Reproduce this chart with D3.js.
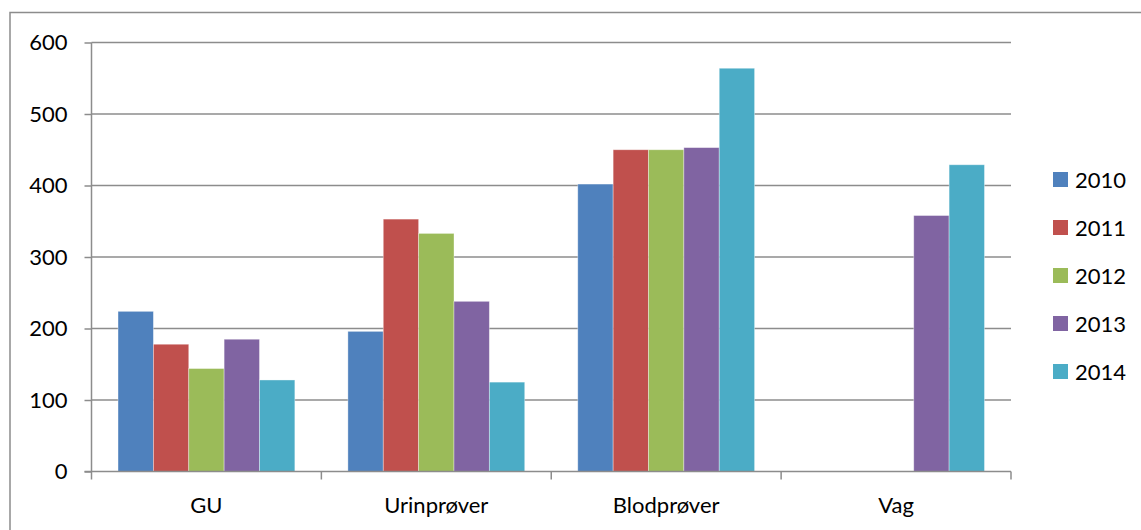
<!DOCTYPE html>
<html>
<head>
<meta charset="utf-8">
<script src="https://cdn.jsdelivr.net/npm/d3@7"></script>
<style>
  html, body { margin: 0; padding: 0; background: #fff; }
  svg { display: block; }
  text { font-family: Lato, "Open Sans", sans-serif; fill: #000; }
</style>
</head>
<body>
<svg id="chart" width="1141" height="530"></svg>
<script>
const categories = ["GU", "Urinprøver", "Blodprøver", "Vag"];
const seriesNames = ["2010", "2011", "2012", "2013", "2014"];
const colors = ["#4F81BD", "#C0504D", "#9BBB59", "#8064A2", "#4BACC6"];
const s2010 = [224, 196, 402, null];
const s2011 = [178, 353, 450, null];
const s2012 = [144, 333, 450, null];
const s2013 = [185, 238, 453, 358];
const s2014 = [128, 125, 564, 429];
const yTicks = [0, 100, 200, 300, 400, 500, 600];

const seriesValues = [s2010, s2011, s2012, s2013, s2014];

const svg = d3.select("#chart");
const plotLeft = 91.5, plotRight = 1011, plotTop = 42.5, plotBottom = 471.5;

// outer chart border (extends beyond the picture)
svg.append("rect")
  .attr("x", 10).attr("y", 12.5)
  .attr("width", 1200).attr("height", 600)
  .attr("fill", "none").attr("stroke", "#8c8c8c").attr("stroke-width", 1.5);

const x0 = d3.scaleBand().domain(categories).range([plotLeft, plotRight]).paddingInner(0).paddingOuter(0);
const gapFrac = 1.5;
const edge = x0.bandwidth() * gapFrac / (2 * (seriesNames.length + gapFrac));
const x1 = d3.scaleBand().domain(seriesNames).range([edge, x0.bandwidth() - edge]);
const y = d3.scaleLinear().domain([0, 600]).range([plotBottom, plotTop]);

// gridlines
svg.append("g").selectAll("line").data(yTicks.filter(d => d > 0)).join("line")
  .attr("x1", plotLeft).attr("x2", plotRight)
  .attr("y1", d => y(d)).attr("y2", d => y(d))
  .attr("stroke", "#8c8c8c").attr("stroke-width", 1.5);

// bars
const gCat = svg.append("g").selectAll("g").data(categories).join("g")
  .attr("transform", c => `translate(${x0(c)},0)`);
gCat.selectAll("rect")
  .data((c, ci) => seriesNames.map((s, si) => ({ s, si, v: seriesValues[si][ci] })).filter(d => d.v != null))
  .join("rect")
  .attr("x", d => x1(d.s))
  .attr("width", x1.bandwidth())
  .attr("y", d => y(d.v))
  .attr("height", d => y(0) - y(d.v))
  .attr("fill", d => colors[d.si])
  .attr("stroke", "rgba(255,255,255,0.45)").attr("stroke-width", 0.8);

// y axis
const yAxis = d3.axisLeft(y).tickValues(yTicks).tickSize(7).tickPadding(17);
const gy = svg.append("g").attr("transform", `translate(${plotLeft},0)`).call(yAxis);
gy.select(".domain").attr("stroke", "#8c8c8c").attr("stroke-width", 1.5).attr("d", `M0,${plotTop}V${plotBottom}`);
gy.selectAll(".tick line").attr("stroke", "#8c8c8c").attr("stroke-width", 1.5);
gy.selectAll(".tick text").attr("font-size", 22).attr("font-family", "Lato, sans-serif").attr("fill", "#000");

// x axis
const gx = svg.append("g").attr("transform", `translate(0,${plotBottom})`);
gx.append("line").attr("x1", plotLeft - 7).attr("x2", plotRight).attr("y1", 0).attr("y2", 0)
  .attr("stroke", "#8c8c8c").attr("stroke-width", 1.5);
const boundaries = categories.map(c => x0(c)).concat([x0(categories[categories.length - 1]) + x0.bandwidth()]);
gx.selectAll("line.tk").data(boundaries).join("line").attr("class", "tk")
  .attr("x1", d => d).attr("x2", d => d).attr("y1", 0).attr("y2", 8)
  .attr("stroke", "#8c8c8c").attr("stroke-width", 1.5);
gx.selectAll("text").data(categories).join("text")
  .attr("x", c => x0(c) + x0.bandwidth() / 2)
  .attr("y", 41)
  .attr("text-anchor", "middle")
  .attr("font-size", 22)
  .text(c => c);

// legend
const lg = svg.append("g").selectAll("g").data(seriesNames).join("g")
  .attr("transform", (d, i) => `translate(1053,${179.5 + i * 48})`);
lg.append("rect").attr("x", 0).attr("y", -7.5).attr("width", 15).attr("height", 15)
  .attr("fill", (d, i) => colors[i]);
lg.append("text").attr("x", 22).attr("y", 8).attr("font-size", 22).text(d => d);
</script>
</body>
</html>
